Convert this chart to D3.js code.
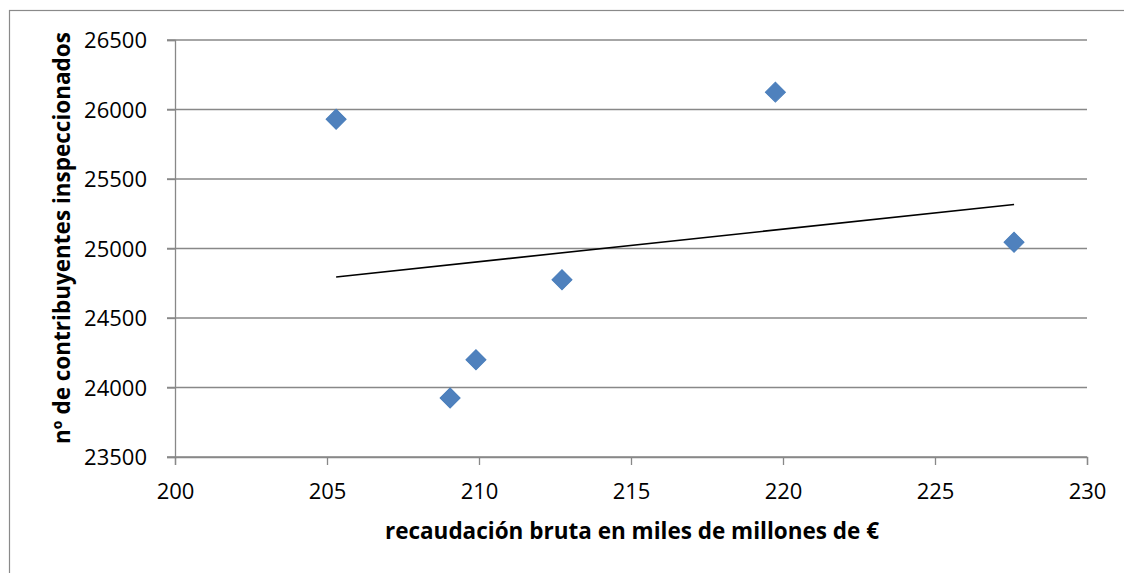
<!DOCTYPE html>
<html>
<head>
<meta charset="utf-8">
<script src="https://cdn.jsdelivr.net/npm/d3@7"></script>
<style>
  body { margin: 0; background: #fff; }
  svg { display: block; }
  .tick text { font-family: "Open Sans", sans-serif; font-size: 22px; fill: #000; }
  .title { font-family: "Open Sans", sans-serif; font-weight: bold; font-size: 22.5px; fill: #000; }
</style>
</head>
<body>
<div id="chart"></div>
<script>
// recaudación bruta (miles de millones de €)
const recaudacion = [205.3, 209.05, 209.9, 212.73, 219.75, 227.6];
// nº de contribuyentes inspeccionados
const contribuyentes = [25930, 23925, 24200, 24775, 26125, 25045];
const xTicks = [200, 205, 210, 215, 220, 225, 230];
const yTicks = [23500, 24000, 24500, 25000, 25500, 26000, 26500];

const width = 1124, height = 573;
const margin = { top: 40, right: 37, bottom: 116, left: 175 };

const svg = d3.select("#chart").append("svg")
    .attr("width", width)
    .attr("height", height);

// chart area border (runs past right/bottom edges)
svg.append("rect")
    .attr("x", 9.5).attr("y", 10.5)
    .attr("width", 1200).attr("height", 700)
    .attr("fill", "none")
    .attr("stroke", "#8a8a8a")
    .attr("stroke-width", 1.2);

let x = d3.scaleLinear().domain([200, 230]).range([margin.left, width - margin.right]);
let y = d3.scaleLinear().domain([23500, 26500]).range([height - margin.bottom, margin.top]);

// gridlines
svg.append("g")
    .selectAll("line")
    .data(yTicks)
    .enter()
    .append("line")
    .attr("x1", margin.left - 8)
    .attr("x2", width - margin.right)
    .attr("y1", d => y(d))
    .attr("y2", d => y(d))
    .attr("stroke", "#888")
    .attr("stroke-width", 1.3);

// y axis
let yAxis = svg.append("g")
    .attr("transform", "translate(" + margin.left + ",0)")
    .call(d3.axisLeft(y).tickValues(yTicks).tickSize(8).tickPadding(20).tickFormat(d3.format("d")));
yAxis.select(".domain").attr("stroke", "#888").attr("stroke-width", 1.3);
yAxis.selectAll(".tick line").attr("stroke", "#888").attr("stroke-width", 1.3);
yAxis.selectAll(".tick text").attr("dy", "0.36em");

// x axis
let xAxis = svg.append("g")
    .attr("transform", "translate(0," + (height - margin.bottom) + ")")
    .call(d3.axisBottom(x).tickValues(xTicks).tickSize(8).tickPadding(18).tickFormat(d3.format("d")));
xAxis.select(".domain").attr("stroke", "#888").attr("stroke-width", 1.3);
xAxis.selectAll(".tick line").attr("stroke", "#888").attr("stroke-width", 1.3);

// linear trendline (least squares)
let mx = d3.mean(recaudacion), my = d3.mean(contribuyentes);
let sxy = d3.sum(recaudacion, (v, i) => (v - mx) * (contribuyentes[i] - my));
let sxx = d3.sum(recaudacion, v => (v - mx) * (v - mx));
let slope = sxy / sxx, intercept = my - slope * mx;
let x0 = d3.min(recaudacion), x1 = d3.max(recaudacion);

svg.append("line")
    .attr("x1", x(x0)).attr("y1", y(intercept + slope * x0))
    .attr("x2", x(x1)).attr("y2", y(intercept + slope * x1))
    .attr("stroke", "#000")
    .attr("stroke-width", 1.6);

// points
let diamond = d3.symbol().type(d3.symbolSquare).size(200);
svg.append("g")
    .selectAll("path")
    .data(recaudacion)
    .enter()
    .append("path")
    .attr("d", diamond)
    .attr("transform", (d, i) => "translate(" + x(d) + "," + y(contribuyentes[i]) + ") rotate(45)")
    .attr("fill", "#4f81bd")
    .attr("stroke", "#4a7ebb")
    .attr("stroke-width", 1);

// axis titles
svg.append("text")
    .attr("class", "title")
    .attr("x", 632)
    .attr("y", 539)
    .attr("text-anchor", "middle")
    .text("recaudación bruta en miles de millones de €");

svg.append("text")
    .attr("class", "title")
    .attr("transform", "translate(70,238) rotate(-90)")
    .attr("text-anchor", "middle")
    .text("nº de contribuyentes inspeccionados");
</script>
</body>
</html>
